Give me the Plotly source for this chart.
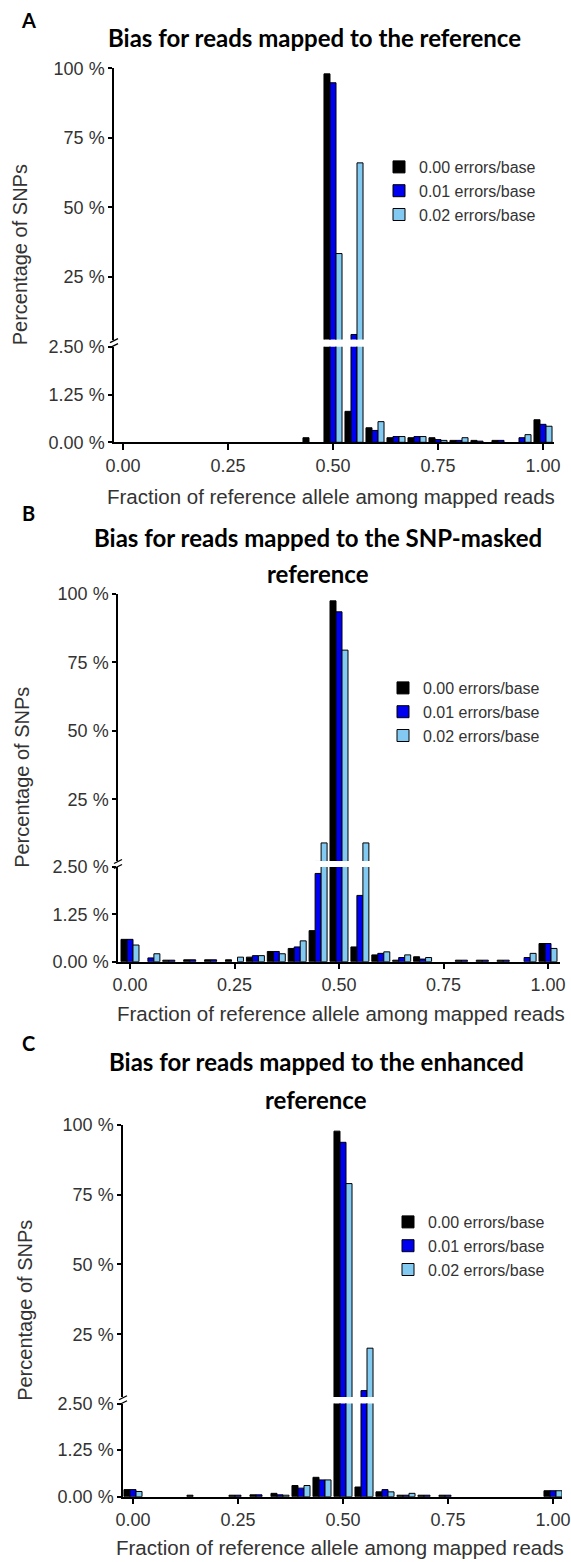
import plotly.graph_objects as go

W, H = 571, 1562

# ---------------- data ----------------
bins = [0.00, 0.05, 0.10, 0.15, 0.20, 0.25, 0.30, 0.35, 0.40, 0.45, 0.50,
        0.55, 0.60, 0.65, 0.70, 0.75, 0.80, 0.85, 0.90, 0.95, 1.00]

series_names = ["0.00 errors/base", "0.01 errors/base", "0.02 errors/base"]
series_colors = ["#000000", "#0000F0", "#82CAF2"]

# Panel A: reads mapped to the reference (% of SNPs)
a_err000 = [0, 0, 0, 0, 0, 0, 0, 0, 0, 0.12, 98.0, 0.81, 0.38, 0.12, 0.12, 0.12, 0.05, 0.05, 0.05, 0, 0.59]
a_err001 = [0, 0, 0, 0, 0, 0, 0, 0, 0, 0, 94.8, 4.3, 0.31, 0.15, 0.15, 0.07, 0.05, 0.03, 0.05, 0.12, 0.47]
a_err002 = [0, 0, 0, 0, 0, 0, 0, 0, 0, 0, 33.4, 66.0, 0.54, 0.15, 0.15, 0.05, 0.12, 0, 0, 0.20, 0.42]

# Panel B: reads mapped to the SNP-masked reference
b_err000 = [0.59, 0, 0.04, 0.05, 0.05, 0.05, 0.12, 0.27, 0.35, 0.82, 97.5, 0.39, 0.18, 0.04, 0.13, 0, 0.04, 0.04, 0.04, 0, 0.48]
b_err001 = [0.59, 0.10, 0.04, 0.05, 0.05, 0.0, 0.16, 0.27, 0.39, 2.33, 93.5, 1.75, 0.22, 0.11, 0.07, 0, 0.04, 0.04, 0.04, 0.11, 0.48]
b_err002 = [0.44, 0.21, 0, 0, 0, 0.12, 0.16, 0.21, 0.55, 9.1, 79.5, 9.1, 0.26, 0.18, 0.11, 0, 0, 0, 0, 0.22, 0.35]

# Panel C: reads mapped to the enhanced reference
c_err000 = [0.19, 0, 0, 0.04, 0, 0.04, 0.05, 0.09, 0.30, 0.52, 97.8, 0.26, 0.13, 0.04, 0.04, 0.04, 0, 0, 0, 0, 0.16]
c_err001 = [0.19, 0, 0, 0, 0, 0.04, 0.05, 0.05, 0.23, 0.45, 93.8, 4.8, 0.19, 0.04, 0.04, 0.04, 0, 0, 0, 0, 0.16]
c_err002 = [0.14, 0, 0, 0, 0, 0, 0, 0.04, 0.30, 0.45, 79.0, 20.0, 0.13, 0.09, 0, 0, 0, 0, 0, 0, 0.16]

panel_data = [
    [a_err000, a_err001, a_err002],
    [b_err000, b_err001, b_err002],
    [c_err000, c_err001, c_err002],
]
panel_letters = ["A", "B", "C"]
panel_titles = [
    ["Bias for reads mapped to the reference"],
    ["Bias for reads mapped to the SNP-masked", "reference"],
    ["Bias for reads mapped to the enhanced", "reference"],
]
x_title = "Fraction of reference allele among mapped reads"
y_title = "Percentage of SNPs"

x_tick_vals = [0, 0.25, 0.5, 0.75, 1.0]
x_tick_text = ["0.00", "0.25", "0.50", "0.75", "1.00"]
upper_tick_vals = [25, 50, 75, 100]
upper_tick_text = ["25 %", "50 %", "75 %", "100 %"]
lower_tick_vals = [0, 1.25, 2.5]
lower_tick_text = ["0.00 %", "1.25 %", "2.50 %"]
split_value = 2.5
top_value = 100

# ---------------- geometry (pixels) ----------------
geo = [
    dict(ax=114, x0=123, x1=543, xend=554, up_top=68.3, up_bot=339.5, lo_top=346.7, lo_bot=442.3,
         letter_y=20, title_y=[38], title_x=314, xt_x=331, xt_y=497, yt_x=20, leg_x=379, leg_y=150),
    dict(ax=118, x0=130, x1=548, xend=560, up_top=594, up_bot=861, lo_top=867, lo_bot=961.7,
         letter_y=513, title_y=[537, 573], title_x=318, xt_x=341, xt_y=1013, yt_x=22, leg_x=383, leg_y=671),
    dict(ax=123, x0=133, x1=553, xend=562, up_top=1125, up_bot=1397, lo_top=1403.5, lo_bot=1496.7,
         letter_y=1043, title_y=[1061, 1099], title_x=316, xt_x=340, xt_y=1547, yt_x=25, leg_x=388, leg_y=1205),
]

def px_x(p):
    return p / W

def px_y(p):
    return 1 - p / H

tick_font = dict(family="Liberation Sans, Arial, sans-serif", size=18, color="#333333")
fig = go.Figure()
layout = dict(
    width=W, height=H, margin=dict(l=0, r=0, t=0, b=0),
    paper_bgcolor="white", plot_bgcolor="white",
    barmode="group", bargap=0.14, bargroupgap=0.0,
    showlegend=True, template="none",
)
annotations = []
shapes = []

for i, g in enumerate(geo):
    n = i + 1
    xa = "x" if n == 1 else f"x{n}"
    yu_id = 2 * n - 1
    yl_id = 2 * n
    yu = "y" if yu_id == 1 else f"y{yu_id}"
    yl = f"y{yl_id}"
    ppu = g["x1"] - g["x0"]
    xr = [(g["ax"] - g["x0"]) / ppu, (g["xend"] - g["x0"]) / ppu]
    xdom = [px_x(g["ax"]), px_x(g["xend"])]

    layout["xaxis" if n == 1 else f"xaxis{n}"] = dict(
        domain=xdom, range=xr, anchor=yl, tickvals=x_tick_vals, ticktext=x_tick_text,
        ticks="outside", ticklen=6, tickwidth=1.5, tickcolor="black",
        showline=True, linecolor="black", linewidth=1.5, showgrid=False, zeroline=False,
        tickfont=tick_font, automargin=False, fixedrange=True,
    )
    layout["yaxis" if yu_id == 1 else f"yaxis{yu_id}"] = dict(
        domain=[px_y(g["up_bot"]), px_y(g["up_top"])], range=[split_value, top_value], anchor=xa,
        tickvals=upper_tick_vals, ticktext=upper_tick_text,
        ticks="outside", ticklen=4, tickwidth=1.5, tickcolor="black",
        showline=True, linecolor="black", linewidth=1.5, showgrid=False, zeroline=False,
        tickfont=tick_font, automargin=False, fixedrange=True,
    )
    layout[f"yaxis{yl_id}"] = dict(
        domain=[px_y(g["lo_bot"]), px_y(g["lo_top"])], range=[0, split_value], anchor=xa,
        tickvals=lower_tick_vals, ticktext=lower_tick_text,
        ticks="outside", ticklen=4, tickwidth=1.5, tickcolor="black",
        showline=True, linecolor="black", linewidth=1.5, showgrid=False, zeroline=False,
        tickfont=tick_font, automargin=False, fixedrange=True,
    )
    leg_key = "legend" if n == 1 else f"legend{n}"
    layout[leg_key] = dict(
        x=px_x(g["leg_x"]), y=px_y(g["leg_y"]), xanchor="left", yanchor="top",
        bgcolor="rgba(0,0,0,0)", borderwidth=0, tracegroupgap=0,
        font=dict(family="Liberation Sans, Arial, sans-serif", size=16, color="#333333"),
        itemclick=False, itemdoubleclick=False,
    )

    for s in range(3):
        vals = [v if v > 0 else None for v in panel_data[i][s]]
        for yax, show in ((yl, True), (yu, False)):
            fig.add_trace(go.Bar(
                x=bins, y=vals, xaxis=xa, yaxis=yax, name=series_names[s],
                marker=dict(color=series_colors[s], line=dict(color="black", width=1)),
                showlegend=show, legend=leg_key,
                hoverinfo="skip",
            ))

    # panel letter
    annotations.append(dict(text=f"<b>{panel_letters[i]}</b>", x=px_x(28), y=px_y(g["letter_y"]),
                            xref="paper", yref="paper", showarrow=False, xanchor="center", yanchor="middle",
                            font=dict(family="Lato, Open Sans, sans-serif", size=20, color="black")))
    # title lines
    for line, ty in zip(panel_titles[i], g["title_y"]):
        annotations.append(dict(text=f"<b>{line}</b>", x=px_x(g["title_x"]), y=px_y(ty),
                                xref="paper", yref="paper", showarrow=False, xanchor="center", yanchor="middle",
                                font=dict(family="Lato, Open Sans, sans-serif", size=24, color="black")))
    # x title
    annotations.append(dict(text=x_title, x=px_x(g["xt_x"]), y=px_y(g["xt_y"]), xref="paper", yref="paper",
                            showarrow=False, xanchor="center", yanchor="middle",
                            font=dict(family="Liberation Sans, Arial, sans-serif", size=20.5, color="#333333")))
    # y title
    annotations.append(dict(text=y_title, x=px_x(g["yt_x"]), y=px_y((g["up_top"] + g["lo_bot"]) / 2),
                            xref="paper", yref="paper", showarrow=False, textangle=-90,
                            xanchor="center", yanchor="middle",
                            font=dict(family="Liberation Sans, Arial, sans-serif", size=20, color="#333333")))
    # axis break marks
    ymid = (g["up_bot"] + g["lo_top"]) / 2
    for dy in (-2.5, 2.5):
        shapes.append(dict(type="line", xref="paper", yref="paper",
                           x0=px_x(g["ax"] - 4), y0=px_y(ymid + dy + 2),
                           x1=px_x(g["ax"] + 4), y1=px_y(ymid + dy - 2),
                           line=dict(color="black", width=1.3)))

layout["annotations"] = annotations
layout["shapes"] = shapes
fig.update_layout(**layout)
fig.write_html("out.html")
